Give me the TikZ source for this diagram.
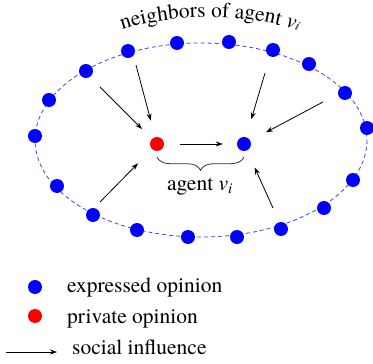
\documentclass[tikz,border=0pt]{standalone}
\usepackage{fontspec}
\setmainfont{TeX Gyre Termes}
\usetikzlibrary{arrows.meta,decorations.pathreplacing,decorations.text}

\newcommand{\lblfont}{\fontsize{21.5}{25}\selectfont}

\begin{document}
\begin{tikzpicture}[x=1pt,y=-1pt,>={Stealth[length=7pt,width=5pt]},
	dot/.style={circle,fill=#1,inner sep=0pt,minimum size=14pt},
	infl/.style={->,line width=0.8pt,shorten >=#1},
	lbl/.style={anchor=base west,inner sep=0pt},
	font=\lblfont]
	\useasboundingbox (0,0) rectangle (373,364);
	\draw[blue!75!white,dash pattern=on 4pt off 3pt,line width=0.8pt] (201,140) ellipse [x radius=166,y radius=97];
	\foreach \x/\y [count=\i] in {128/51,177/43,229/42,273/50,309/64,345/93,367/128,353/180,324/208,
		281/229,237/237,188/237,137/230,93/215,57/186,35/136,49/100,86/71}
		\node[dot=blue] (n\i) at (\x,\y) {};
	\node[dot=red] (priv) at (157,144) {};
	\node[dot=blue] (expr) at (244,144) {};
	\coordinate (arcl) at (116,32);
	\coordinate (arcr) at (304,33);
	\path[decorate,decoration={text along path,text align=center,
		text={|\lblfont|neighbors of agent |\lblfont\itshape|v|\fontsize{13}{13}\selectfont\itshape|i}}]
		(arcl) .. controls (170,12) and (250,12) .. (arcr);
	\foreach \x/\y/\tgt/\sh [count=\i] in {100/87/priv/14,136/65/priv/17,100/202/priv/20,
		265/73/expr/18.6,323/102/expr/17.7,273/208/expr/18.6}{
		\coordinate (t\i) at (\x,\y);
		\draw[infl=\sh pt] (t\i) -- (\tgt);
	}
	\draw[infl=14pt,shorten <=16pt] (priv) -- (expr);
	\draw[decorate,decoration={brace,mirror,amplitude=13pt},line width=0.8pt,black!80]
		([yshift=-6pt]priv.south) -- ([yshift=-6pt]expr.south);
	\node[anchor=base] (agent) at (200,190) {agent \textit{v\textsubscript{i}}};
	% legend
	\node[dot=blue] (lgexp) at (35,287) {};
	\node[lbl] (lgexptxt) at (67,292) {expressed opinion};
	\node[dot=red] (lgpriv) at (35,316) {};
	\node[lbl] (lgprivtxt) at (67,323) {private opinion};
	\coordinate (lgtail) at (6,352);
	\coordinate (lghead) at (57,352);
	\draw[infl=0pt] (lgtail) -- (lghead);
	\node[lbl] (lgsoc) at (72,354) {social influence};
\end{tikzpicture}
\end{document}
